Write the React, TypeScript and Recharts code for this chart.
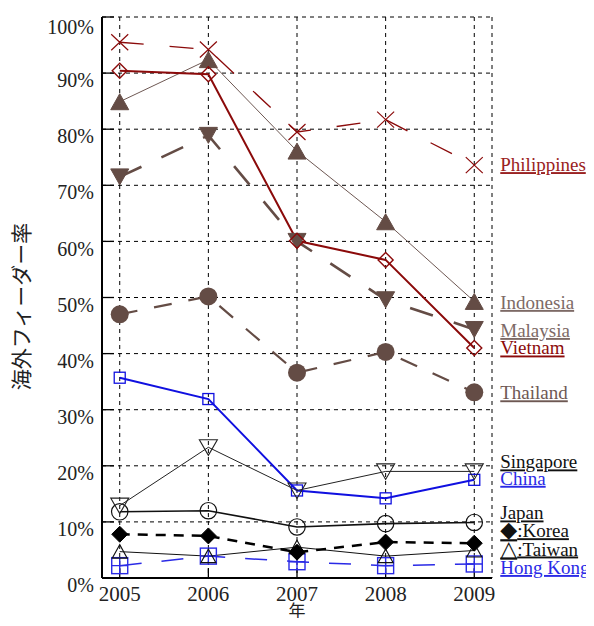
import React from 'react';
import { LineChart, Line, XAxis, YAxis, CartesianGrid, LabelList } from 'recharts';

const years = [2005, 2006, 2007, 2008, 2009];
const yTicks = [0, 10, 20, 30, 40, 50, 60, 70, 80, 90, 100];

// 海外フィーダー率 (%)
const philippines = [95.5, 94.2, 79.5, 81.7, 73.6];
const vietnam = [90.4, 89.8, 60.1, 56.7, 41.0];
const indonesia = [84.9, 92.4, 76.1, 63.5, 49.3];
const malaysia = [71.5, 78.9, 60.0, 49.6, 44.3];
const thailand = [47.0, 50.2, 36.6, 40.3, 33.1];
const china = [35.7, 31.9, 15.6, 14.2, 17.5];
const singapore = [12.9, 23.3, 15.6, 19.0, 19.0];
const japan = [11.8, 12.0, 9.1, 9.7, 9.9];
const korea = [7.8, 7.5, 4.6, 6.4, 6.2];
const taiwan = [4.7, 3.9, 5.5, 3.9, 4.9];
const hongKong = [2.2, 3.9, 2.9, 2.2, 2.5];

const seriesNames = ['Hong Kong', 'Taiwan', 'Korea', 'Japan', 'China', 'Singapore', 'Thailand', 'Malaysia', 'Indonesia', 'Vietnam', 'Philippines'];
const seriesValues = [hongKong, taiwan, korea, japan, china, singapore, thailand, malaysia, indonesia, vietnam, philippines];
const seriesLabels = ['Hong Kong', '△:Taiwan', '◆:Korea', 'Japan', 'China', 'Singapore', 'Thailand', 'Malaysia', 'Indonesia', 'Vietnam', 'Philippines'];

const RED = '#8b0a0a';
const BROWN = '#644c45';
const BLUE = '#1010e0';

type Style = {
  color: string;
  labelColor: string;
  width: number;
  dash?: string;
  marker: string;
  fill: string;
  labelDy: number;
};

const STYLES: Record<string, Style> = {
  'Hong Kong': { color: '#2a2ae6', labelColor: '#2a2ae6', width: 1.5, dash: '22 20', marker: 'squareCross', fill: 'none', labelDy: 10 },
  Taiwan: { color: '#111', labelColor: '#111', width: 1, marker: 'triUp', fill: 'none', labelDy: 5 },
  Korea: { color: '#000', labelColor: '#111', width: 2.5, dash: '10 8', marker: 'diamond', fill: '#000', labelDy: -6 },
  Japan: { color: '#111', labelColor: '#111', width: 1.6, marker: 'circle', fill: 'none', labelDy: -3 },
  China: { color: BLUE, labelColor: '#2a2ae6', width: 2, marker: 'square', fill: 'none', labelDy: 5 },
  Singapore: { color: '#222', labelColor: '#111', width: 1, marker: 'triDown', fill: 'none', labelDy: -3 },
  Thailand: { color: BROWN, labelColor: '#6e5853', width: 2.2, dash: '18 17', marker: 'circleFill', fill: BROWN, labelDy: 7 },
  Malaysia: { color: BROWN, labelColor: '#7d6a66', width: 2.6, dash: '24 22', marker: 'triDown', fill: BROWN, labelDy: 7.5 },
  Indonesia: { color: '#6e5853', labelColor: '#7d6a66', width: 1, marker: 'triUp', fill: BROWN, labelDy: 7.5 },
  Vietnam: { color: RED, labelColor: RED, width: 2, marker: 'diamondOpen', fill: 'none', labelDy: 6.5 },
  Philippines: { color: RED, labelColor: '#9a2222', width: 1.3, dash: '24 26', marker: 'cross', fill: 'none', labelDy: 6 },
};

const data = years.map((year, i) => {
  const row: Record<string, number> = { year };
  seriesNames.forEach((name, s) => {
    row[name] = seriesValues[s][i];
  });
  return row;
});

const makeDot = (name: string) => (props: any) => {
  const { cx, cy, index } = props;
  const st = STYLES[name];
  const key = `${name}-dot-${index}`;
  if (cx == null || cy == null) return <g key={key} />;
  switch (st.marker) {
    case 'cross':
      return (
        <path key={key} d={`M${cx - 8.5},${cy - 8} L${cx + 8.5},${cy + 8} M${cx - 8.5},${cy + 8} L${cx + 8.5},${cy - 8}`} stroke={st.color} strokeWidth={1.2} fill="none" />
      );
    case 'diamondOpen':
      return <path key={key} d={`M${cx},${cy - 7.5} L${cx + 7.5},${cy} L${cx},${cy + 7.5} L${cx - 7.5},${cy} Z`} stroke={st.color} strokeWidth={1.4} fill="none" />;
    case 'diamond':
      return <path key={key} d={`M${cx},${cy - 8} L${cx + 8},${cy} L${cx},${cy + 8} L${cx - 8},${cy} Z`} stroke={st.color} strokeWidth={1} fill={st.fill} />;
    case 'triUp':
      if (st.fill === 'none')
        return <path key={key} d={`M${cx},${cy - 7} L${cx + 7.5},${cy + 6.5} L${cx - 7.5},${cy + 6.5} Z`} stroke={st.color} strokeWidth={1.1} fill="none" />;
      return <path key={key} d={`M${cx},${cy - 8} L${cx + 9},${cy + 8} L${cx - 9},${cy + 8} Z`} stroke={st.fill} strokeWidth={1} fill={st.fill} />;
    case 'triDown':
      if (st.fill === 'none')
        return <path key={key} d={`M${cx - 9},${cy - 7.5} L${cx + 9},${cy - 7.5} L${cx},${cy + 8} Z`} stroke={st.color} strokeWidth={1.1} fill="none" />;
      return <path key={key} d={`M${cx - 9},${cy - 8} L${cx + 9},${cy - 8} L${cx},${cy + 8} Z`} stroke={st.fill} strokeWidth={1} fill={st.fill} />;
    case 'circle':
      return <circle key={key} cx={cx} cy={cy} r={8.2} stroke={st.color} strokeWidth={1.2} fill="none" />;
    case 'circleFill':
      return <circle key={key} cx={cx} cy={cy} r={9} fill={st.fill} stroke="none" />;
    case 'square':
      return <rect key={key} x={cx - 5.5} y={cy - 5.5} width={11} height={11} stroke={st.color} strokeWidth={1.3} fill="none" />;
    case 'squareCross':
      return (
        <g key={key} stroke={st.color} strokeWidth={1.4} fill="none">
          <rect x={cx - 8} y={cy - 8} width={16} height={16} />
          <path d={`M${cx - 8},${cy} L${cx + 8},${cy} M${cx},${cy - 8} L${cx},${cy + 8}`} />
        </g>
      );
    default:
      return <g key={key} />;
  }
};

const makeEndLabel = (name: string, text: string) => (props: any) => {
  const { index } = props;
  if (index !== years.length - 1) return null;
  const st = STYLES[name];
  const x = props.x ?? props.viewBox?.x;
  const y = props.y ?? props.viewBox?.y;
  // the symbol keys (◆ / △) are drawn a bit larger, as in the original
  const symbol = text.startsWith('◆') || text.startsWith('△');
  return (
    <text
      key={`${name}-label`}
      x={x + 26}
      y={y + st.labelDy}
      fill={st.labelColor}
      fontSize={19}
      fontFamily="'Liberation Serif', serif"
      style={{ textDecoration: 'underline' }}
    >
      {symbol ? (
        <>
          <tspan fontSize={22} fontFamily="'DejaVu Sans', sans-serif">{text[0]}</tspan>
          <tspan>{text.slice(1)}</tspan>
        </>
      ) : (
        text
      )}
    </text>
  );
};

const yTitle = (props: any) => {
  const vb = props.viewBox;
  const cx = vb.x + 12;
  const cy = vb.y + vb.height / 2 + 9;
  return (
    <text
      x={cx}
      y={cy}
      transform={`rotate(-90 ${cx} ${cy})`}
      textAnchor="middle"
      dominantBaseline="central"
      fontSize={21}
      fill="#222"
      fontFamily="'Noto Sans CJK JP', sans-serif"
    >
      海外フィーダー率
    </text>
  );
};

const tickFont = { fill: '#222', fontSize: 20, fontFamily: "'Liberation Serif', serif" };
const axisLine = { stroke: '#000', strokeWidth: 2 };
const tickLine = { stroke: '#000', strokeWidth: 1.3 };

export default function App() {
  return (
    <LineChart width={578} height={610} data={data} margin={{ top: 9, right: 94, bottom: 0, left: 0 }}>
      <CartesianGrid stroke="#000" strokeWidth={1} strokeDasharray="4 4" />
      <XAxis
        dataKey="year"
        type="number"
        domain={[2004.8, 2009.2]}
        ticks={years}
        height={40}
        axisLine={axisLine}
        tickLine={tickLine}
        tickSize={-10}
        tickMargin={18}
        tick={{ ...tickFont, fontSize: 21 }}
        label={{ value: '年', position: 'insideBottom', offset: 1, fontSize: 17, fill: '#222', fontFamily: "'Noto Sans CJK JP', sans-serif" }}
      />
      <XAxis
        xAxisId="top"
        orientation="top"
        type="number"
        domain={[2004.8, 2009.2]}
        ticks={years}
        height={0}
        axisLine={axisLine}
        tickLine={tickLine}
        tickSize={-10}
        tick={false}
      />
      <YAxis
        type="number"
        domain={[0, 100]}
        ticks={yTicks}
        width={94}
        axisLine={axisLine}
        tickLine={tickLine}
        tickSize={-12}
        tickMargin={20}
        tick={{ ...tickFont, dy: 7 }}
        tickFormatter={(v: number) => `${v}%`}
        label={{ content: yTitle }}
      />
      <YAxis
        yAxisId="right"
        orientation="right"
        type="number"
        domain={[0, 100]}
        ticks={yTicks}
        width={0}
        axisLine={axisLine}
        tickLine={tickLine}
        tickSize={-14}
        tick={false}
      />
      {seriesNames.map((name, s) => {
        const st = STYLES[name];
        return (
          <Line
            key={name}
            type="linear"
            dataKey={name}
            stroke={st.color}
            strokeWidth={st.width}
            strokeDasharray={st.dash}
            dot={makeDot(name)}
            activeDot={false}
            isAnimationActive={false}
          >
            <LabelList dataKey={name} content={makeEndLabel(name, seriesLabels[s])} />
          </Line>
        );
      })}
    </LineChart>
  );
}
